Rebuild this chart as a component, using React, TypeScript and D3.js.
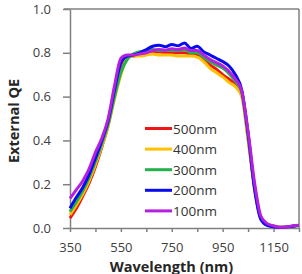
import React, { useRef, useEffect } from "react";
import * as d3 from "d3";

const wavelengths = [
  350, 375, 400, 425, 450, 475, 500, 525, 550, 575, 600, 625, 650, 675, 700, 725, 750, 775, 800,
  825, 850, 875, 900, 925, 950, 975, 1000, 1025, 1050, 1075, 1100, 1125, 1150, 1175, 1200, 1225, 1250,
];

const qe500 = [
  0.045, 0.09, 0.145, 0.205, 0.28, 0.37, 0.47, 0.61, 0.72, 0.78, 0.785, 0.79, 0.795, 0.8, 0.805, 0.8,
  0.8, 0.8, 0.8, 0.795, 0.79, 0.77, 0.745, 0.725, 0.7, 0.68, 0.655, 0.61, 0.41, 0.19, 0.045, 0.015,
  0.008, 0.003, 0.004, 0.008, 0.012,
];
const qe400 = [
  0.06, 0.105, 0.155, 0.215, 0.29, 0.375, 0.465, 0.59, 0.7, 0.775, 0.785, 0.785, 0.79, 0.795, 0.79,
  0.79, 0.79, 0.785, 0.785, 0.785, 0.78, 0.76, 0.73, 0.71, 0.69, 0.665, 0.645, 0.6, 0.4, 0.18, 0.045,
  0.015, 0.008, 0.003, 0.004, 0.008, 0.012,
];
const qe300 = [
  0.075, 0.12, 0.17, 0.23, 0.305, 0.385, 0.475, 0.6, 0.71, 0.77, 0.795, 0.805, 0.81, 0.815, 0.81,
  0.81, 0.812, 0.81, 0.815, 0.8, 0.8, 0.78, 0.76, 0.745, 0.73, 0.705, 0.67, 0.62, 0.42, 0.19, 0.045,
  0.015, 0.008, 0.003, 0.004, 0.008, 0.012,
];
const qe200 = [
  0.09, 0.14, 0.185, 0.245, 0.32, 0.4, 0.49, 0.63, 0.755, 0.785, 0.79, 0.8, 0.815, 0.83, 0.835, 0.828,
  0.838, 0.832, 0.845, 0.82, 0.83, 0.805, 0.79, 0.775, 0.76, 0.74, 0.7, 0.63, 0.43, 0.18, 0.04, 0.012,
  0.006, 0.002, 0.004, 0.008, 0.012,
];
const qe100 = [
  0.135, 0.175, 0.215, 0.27, 0.345, 0.41, 0.5, 0.65, 0.775, 0.79, 0.79, 0.795, 0.8, 0.81, 0.815, 0.812,
  0.818, 0.815, 0.822, 0.81, 0.81, 0.79, 0.77, 0.755, 0.74, 0.715, 0.68, 0.625, 0.44, 0.21, 0.055,
  0.02, 0.01, 0.003, 0.005, 0.01, 0.012,
];

const seriesNames = ["500nm", "400nm", "300nm", "200nm", "100nm"];
const seriesValues = [qe500, qe400, qe300, qe200, qe100];
const seriesColors = ["#f01515", "#ffc000", "#22b14c", "#0a0af0", "#b520e0"];

const xTicks = [350, 450, 550, 650, 750, 850, 950, 1050, 1150, 1250];
const xLabels = [350, 550, 750, 950, 1150];
const yTicks = [0, 0.2, 0.4, 0.6, 0.8, 1.0];

const App = () => {
  const svgRef = useRef<SVGSVGElement>(null);

  useEffect(() => {
    const svg = d3.select(svgRef.current);
    svg.selectAll("*").remove();

    const left = 70, right = 299, top = 9, bottom = 228;
    const axisColor = "#808080";
    const font = "'Open Sans', sans-serif";

    const x = d3.scaleLinear().domain([350, 1250]).range([left, right]);
    const y = d3.scaleLinear().domain([0, 1]).range([bottom, top]);

    // frame top and right
    svg.append("line").attr("x1", left - 6).attr("x2", right).attr("y1", top).attr("y2", top)
      .attr("stroke", axisColor).attr("stroke-width", 1.5);
    svg.append("line").attr("x1", right).attr("x2", right).attr("y1", top).attr("y2", bottom)
      .attr("stroke", axisColor).attr("stroke-width", 1.5);

    const xAxis = svg.append("g")
      .attr("transform", `translate(0,${bottom})`)
      .call(d3.axisBottom(x).tickValues(xTicks).tickSize(4).tickSizeOuter(0)
        .tickFormat(d => (xLabels.includes(+d) ? String(d) : "")));
    xAxis.select(".domain").attr("stroke", axisColor).attr("stroke-width", 1.5);
    xAxis.selectAll(".tick line").attr("stroke", axisColor).attr("stroke-width", 1.5);
    xAxis.selectAll(".tick text").attr("font-family", font).attr("font-size", 13)
      .attr("fill", "#404040").attr("dy", "1.3em");

    const yAxis = svg.append("g")
      .attr("transform", `translate(${left},0)`)
      .call(d3.axisLeft(y).tickValues(yTicks).tickSize(7).tickSizeOuter(0).tickFormat(d3.format(".1f")));
    yAxis.select(".domain").attr("stroke", axisColor).attr("stroke-width", 1.5);
    yAxis.selectAll(".tick line").attr("stroke", axisColor).attr("stroke-width", 1.5);
    yAxis.selectAll(".tick text").attr("font-family", font).attr("font-size", 13)
      .attr("fill", "#404040").attr("x", -19);

    const line = d3.line<number>()
      .x((_, i) => x(wavelengths[i]))
      .y(d => y(d))
      .curve(d3.curveMonotoneX);

    seriesValues.forEach((vals, i) => {
      svg.append("path")
        .attr("d", line(vals))
        .attr("fill", "none")
        .attr("stroke", seriesColors[i])
        .attr("stroke-width", 3)
        .attr("stroke-linejoin", "round");
    });

    // legend
    const lg = svg.append("g");
    seriesNames.forEach((name, i) => {
      const ly = 128.5 + i * 20.6;
      lg.append("line").attr("x1", 145).attr("x2", 172).attr("y1", ly).attr("y2", ly)
        .attr("stroke", seriesColors[i]).attr("stroke-width", 3);
      lg.append("text").attr("x", 173).attr("y", ly + 5).text(name)
        .attr("font-family", font).attr("font-size", 13.5).attr("fill", "#333");
    });

    svg.append("text")
      .attr("x", 171.5).attr("y", 271.5)
      .attr("text-anchor", "middle")
      .attr("font-family", font).attr("font-size", 14.5).attr("font-weight", "bold")
      .attr("fill", "#262626")
      .text("Wavelength (nm)");

    svg.append("text")
      .attr("transform", `translate(18.5,121) rotate(-90)`)
      .attr("text-anchor", "middle")
      .attr("font-family", font).attr("font-size", 14.5).attr("font-weight", "bold")
      .attr("fill", "#262626")
      .text("External QE");
  }, []);

  return (
    <svg ref={svgRef} width={302} height={274}
      style={{ position: "absolute", left: 0, top: 0, background: "#fff" }} />
  );
};

export default App;
